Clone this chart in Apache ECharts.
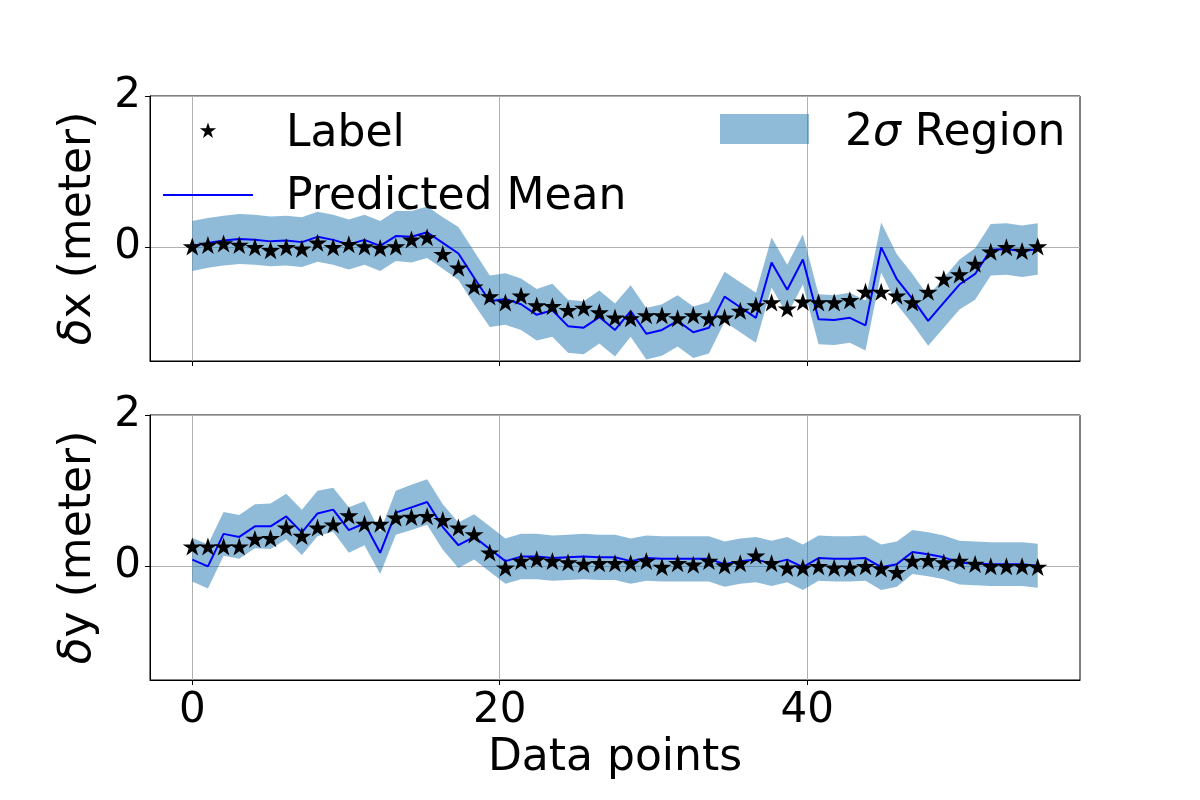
<!DOCTYPE html>
<html>
<head>
<meta charset="utf-8">
<script src="https://cdn.jsdelivr.net/npm/echarts@6/dist/echarts.min.js"></script>
<style>
  html, body { margin: 0; padding: 0; background: #fff; }
  #chart { width: 1200px; height: 800px; }
</style>
</head>
<body>
<div id="chart"></div>
<script>
// ground truth offsets (stars) and predicted mean for dx / dy, plus 2-sigma half width
const labelX = [0.00, 0.02, 0.04, 0.02, -0.01, -0.05, -0.01, -0.03, 0.05, -0.01,
  0.03, 0.00, -0.02, 0.00, 0.09, 0.12, -0.10, -0.28, -0.53, -0.66,
  -0.74, -0.65, -0.78, -0.79, -0.84, -0.81, -0.87, -0.94, -0.95, -0.91,
  -0.91, -0.95, -0.91, -0.95, -0.94, -0.85, -0.78, -0.74, -0.82, -0.73,
  -0.74, -0.74, -0.71, -0.60, -0.60, -0.65, -0.74, -0.60, -0.43, -0.37,
  -0.23, -0.07, -0.01, -0.06, 0.00];
const predX = [0.02, 0.06, 0.09, 0.11, 0.10, 0.08, 0.09, 0.07, 0.14, 0.10,
  0.04, 0.10, 0.02, 0.15, 0.14, 0.20, 0.06, -0.08, -0.40, -0.71,
  -0.68, -0.75, -0.89, -0.83, -1.04, -1.06, -0.92, -1.09, -0.84, -1.14,
  -1.09, -0.97, -1.12, -1.06, -0.65, -0.79, -0.93, -0.20, -0.56, -0.16,
  -0.95, -0.96, -0.93, -1.03, 0.00, -0.42, -0.68, -0.97, -0.73, -0.49,
  -0.35, -0.03, -0.02, -0.05, -0.02];
const sigX = [0.33, 0.33, 0.33, 0.33, 0.33, 0.33, 0.33, 0.33, 0.33, 0.33,
  0.33, 0.33, 0.33, 0.33, 0.34, 0.34, 0.34, 0.35, 0.35, 0.34,
  0.34, 0.34, 0.34, 0.35, 0.35, 0.35, 0.35, 0.35, 0.34, 0.34,
  0.34, 0.34, 0.34, 0.34, 0.33, 0.33, 0.33, 0.33, 0.33, 0.33,
  0.33, 0.33, 0.33, 0.33, 0.33, 0.33, 0.33, 0.33, 0.33, 0.33,
  0.34, 0.34, 0.34, 0.34, 0.34];

const labelY = [0.25, 0.25, 0.25, 0.25, 0.35, 0.36, 0.50, 0.39, 0.50, 0.54,
  0.66, 0.55, 0.55, 0.63, 0.64, 0.65, 0.60, 0.50, 0.41, 0.17,
  -0.03, 0.06, 0.08, 0.06, 0.04, 0.02, 0.03, 0.03, 0.03, 0.06,
  -0.02, 0.03, 0.01, 0.06, 0.00, 0.03, 0.13, 0.03, -0.03, -0.03,
  -0.01, -0.03, -0.03, -0.01, -0.04, -0.09, 0.06, 0.07, 0.04, 0.06,
  0.02, -0.01, -0.01, -0.01, -0.02];
const predY = [0.09, 0.00, 0.43, 0.39, 0.53, 0.53, 0.66, 0.45, 0.70, 0.75,
  0.48, 0.57, 0.18, 0.71, 0.78, 0.85, 0.52, 0.28, 0.39, 0.23,
  0.07, 0.13, 0.13, 0.11, 0.12, 0.13, 0.12, 0.12, 0.07, 0.11,
  0.10, 0.10, 0.10, 0.10, 0.03, 0.07, 0.09, 0.04, 0.09, -0.01,
  0.11, 0.10, 0.10, 0.11, -0.01, 0.03, 0.19, 0.16, 0.12, 0.05,
  0.04, 0.03, 0.03, 0.03, 0.01];
const sigY = [0.29, 0.29, 0.29, 0.29, 0.29, 0.30, 0.30, 0.30, 0.30, 0.29,
  0.30, 0.29, 0.28, 0.29, 0.30, 0.30, 0.30, 0.30, 0.30, 0.30,
  0.30, 0.30, 0.30, 0.30, 0.30, 0.30, 0.30, 0.30, 0.30, 0.30,
  0.30, 0.30, 0.30, 0.30, 0.30, 0.30, 0.30, 0.30, 0.30, 0.30,
  0.30, 0.30, 0.30, 0.30, 0.30, 0.30, 0.29, 0.29, 0.29, 0.29,
  0.29, 0.29, 0.29, 0.29, 0.29];

const xTicks = [0, 20, 40];
const yTicks = [0, 2];

// samples are evenly spread over 0..55
const xs = labelX.map((_, i) => i * 55 / (labelX.length - 1));

const FONT = 'DejaVu Sans';
const bandColor = 'rgba(31,119,180,0.5)';
const starPath = 'path://M0,-100 L22.45,-30.9 L95.11,-30.9 L36.33,11.8 L58.78,80.9 L0,38.2 L-58.78,80.9 L-36.33,11.8 L-95.11,-30.9 L-22.45,-30.9 Z';

const chart = echarts.init(document.getElementById('chart'));

function bandSeries(idx, mean, sig) {
  const rows = xs.map((x, i) => [x, mean[i] - sig[i], mean[i] + sig[i]]);
  return {
    type: 'custom',
    xAxisIndex: idx,
    yAxisIndex: idx,
    data: rows,
    encode: { x: 0, y: [1, 2] },
    z: 1,
    renderItem: (params, api) => {
      if (params.dataIndex !== 0) return null;
      const pts = [];
      rows.forEach(r => pts.push(api.coord([r[0], r[2]])));
      for (let i = rows.length - 1; i >= 0; i--) pts.push(api.coord([rows[i][0], rows[i][1]]));
      return { type: 'polygon', shape: { points: pts }, style: { fill: bandColor } };
    }
  };
}

function lineSeries(idx, mean) {
  return {
    type: 'line',
    xAxisIndex: idx,
    yAxisIndex: idx,
    data: xs.map((x, i) => [x, mean[i]]),
    showSymbol: false,
    lineStyle: { color: '#0000ff', width: 2 },
    z: 2
  };
}

function starSeries(idx, vals) {
  return {
    type: 'scatter',
    xAxisIndex: idx,
    yAxisIndex: idx,
    data: xs.map((x, i) => [x, vals[i]]),
    symbol: starPath,
    symbolSize: [19, 18],
    symbolOffset: [0, -1],
    itemStyle: { color: '#000', opacity: 1 },
    z: 3
  };
}

function xAxis(idx, withLabels) {
  return {
    type: 'value',
    gridIndex: idx,
    min: -2.75,
    max: 57.75,
    axisLine: { show: true, onZero: false, lineStyle: { color: '#000', width: 1 } },
    axisTick: { show: true, length: 5, customValues: xTicks, lineStyle: { color: '#000' } },
    axisLabel: { show: withLabels, customValues: xTicks, fontSize: 42, fontFamily: FONT, color: '#000', margin: 10 },
    splitLine: { show: true, lineStyle: { color: '#b0b0b0', width: 1 } },
    name: withLabels ? 'Data points' : '',
    nameLocation: 'middle',
    nameGap: 54,
    nameTextStyle: { fontSize: 44, fontFamily: FONT, color: '#000', lineHeight: 50 }
  };
}

function yAxis(idx, letter) {
  return {
    type: 'value',
    gridIndex: idx,
    min: -1.5,
    max: 2,
    axisLine: { show: true, onZero: false, lineStyle: { color: '#000', width: 1 } },
    axisTick: { show: true, length: 5, customValues: yTicks, lineStyle: { color: '#000' } },
    axisLabel: { customValues: yTicks, fontSize: 42, fontFamily: FONT, color: '#000', margin: 9 },
    splitLine: { show: true, lineStyle: { color: '#b0b0b0', width: 1 } },
    name: '{i|δ}' + letter + ' (meter)',
    nameLocation: 'middle',
    nameGap: 40,
    nameTextStyle: {
      fontSize: 44, fontFamily: FONT, color: '#000', lineHeight: 50,
      rich: { i: { fontStyle: 'italic', fontSize: 44, fontFamily: FONT, color: '#000', lineHeight: 50 } }
    }
  };
}

function starPoints(cx, cy, r) {
  const pts = [];
  for (let k = 0; k < 10; k++) {
    const rr = k % 2 === 0 ? r : r * 0.382;
    const a = Math.PI / 2 - k * Math.PI / 5;
    pts.push([cx + rr * Math.cos(a), cy - rr * Math.sin(a)]);
  }
  return pts;
}

const textStyle = { font: '44px "DejaVu Sans"', fill: '#000', verticalAlign: 'middle', align: 'left' };

const option = {
  backgroundColor: '#fff',
  animation: false,
  grid: [
    { left: 150, top: 96, width: 930, height: 265, show: true, borderColor: '#000', borderWidth: 1, backgroundColor: 'transparent' },
    { left: 150, top: 415, width: 930, height: 265, show: true, borderColor: '#000', borderWidth: 1, backgroundColor: 'transparent' }
  ],
  xAxis: [xAxis(0, false), xAxis(1, true)],
  yAxis: [yAxis(0, 'x'), yAxis(1, 'y')],
  series: [
    bandSeries(0, predX, sigX), lineSeries(0, predX), starSeries(0, labelX),
    bandSeries(1, predY, sigY), lineSeries(1, predY), starSeries(1, labelY)
  ],
  graphic: [
    { type: 'polygon', shape: { points: starPoints(208, 131, 8.5) }, style: { fill: '#000' }, z: 10 },
    { type: 'text', x: 286, y: 135, style: Object.assign({ text: 'Label' }, textStyle), z: 10 },
    { type: 'line', shape: { x1: 163, y1: 195, x2: 253, y2: 195 }, style: { stroke: '#0000ff', lineWidth: 2 }, z: 10 },
    { type: 'text', x: 286, y: 198, style: Object.assign({ text: 'Predicted Mean' }, textStyle), z: 10 },
    { type: 'rect', shape: { x: 720, y: 114, width: 89, height: 30 }, style: { fill: bandColor }, z: 10 },
    {
      type: 'text', x: 845, y: 134, z: 10,
      style: {
        text: '{n|2}{s|σ}{n| Region}',
        verticalAlign: 'middle', align: 'left',
        rich: {
          n: { fontSize: 44, fontFamily: FONT, color: '#000' },
          s: { fontSize: 44, fontFamily: FONT, fontStyle: 'italic', color: '#000' }
        }
      }
    }
  ]
};

chart.setOption(option);
</script>
</body>
</html>
